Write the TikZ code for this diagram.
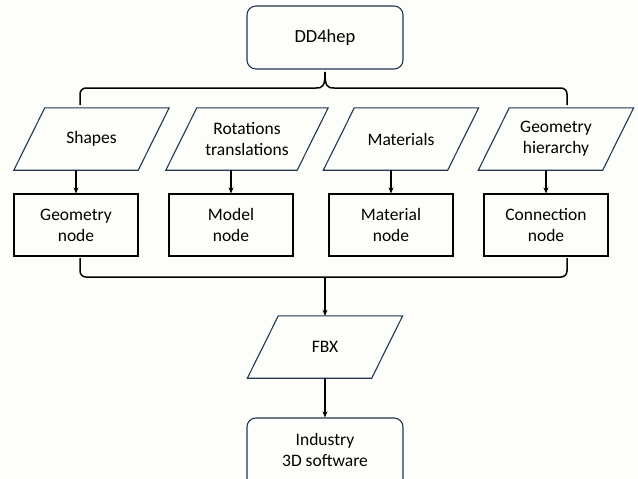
\documentclass[tikz,border=0pt]{standalone}
\usepackage{fontspec}
\setmainfont{Carlito}
\usetikzlibrary{shapes.geometric,arrows.meta}
\definecolor{bg}{RGB}{253,253,250}
\definecolor{frame}{RGB}{31,56,80}
\tikzset{
  txt/.style={font=\fontsize{17.5}{21}\selectfont, align=center, text=black},
  para/.style={txt, rectangle, minimum width=124pt, minimum height=62pt, inner sep=0pt},
  paraline/.style={draw=frame, line width=1.1pt, line join=miter},
  box/.style={txt, rectangle, draw=black, line width=1.1pt, minimum width=124pt, minimum height=62pt, inner sep=0pt},
  rbox/.style={txt, rectangle, rounded corners=9pt, draw=frame, line width=1.1pt, minimum width=156pt, minimum height=63pt, inner sep=0pt},
  conn/.style={line width=1.5pt, draw=black},
  arr/.style={conn, -{Stealth[length=6pt,width=5pt]}},
}
\begin{document}
\begin{tikzpicture}[x=1pt,y=-1pt]
\path[fill=bg] (0,0) rectangle (638,479);
\useasboundingbox (0,0) rectangle (638,479);

\node[rbox, font=\fontsize{18.5}{22}\selectfont] (dd) at (325,37.5) {DD4hep};

\node[para] (p1) at (91.5,139) {Shapes};
\node[para, minimum width=131pt] (p2) at (247,139) {Rotations\\translations};
\node[para] (p3) at (401,139) {Materials};
\node[para] (p4) at (556,139) {Geometry\\hierarchy};
\node[para] (fbx) at (325,347) {FBX};

\foreach \n in {p1,p2,p3,p4,fbx}
  \draw[paraline] ([xshift=-15.5pt]\n.south west) -- ([xshift=-15.5pt]\n.south east)
     -- ([xshift=15.5pt]\n.north east) -- ([xshift=15.5pt]\n.north west) -- cycle;

\node[box] (b1) at (76,225) {Geometry\\node};
\node[box] (b2) at (231,225) {Model\\node};
\node[box] (b3) at (391,225) {Material\\node};
\node[box] (b4) at (546,225) {Connection\\node};

\node[rbox, minimum height=80pt] (ind) at (325,458) {};
\node[txt] (indt) at (325,450) {Industry\\3D software};

% top brace
\coordinate (tl) at (80,105);
\coordinate (tr) at (567,105);
\coordinate (tip) at (325,72);
\draw[conn, rounded corners=6pt] (tl) -- (80,88) -- (316,88);
\draw[conn] (316,88) .. controls (323,88) and (325,86) .. (tip) .. controls (325,86) and (327,88) .. (334,88);
\draw[conn, rounded corners=6pt] (334,88) -- (567,88) -- (tr);

% arrows to boxes
\draw[arr] (b1.north |- p1.south) -- (b1.north);
\draw[arr] (b2.north |- p2.south) -- (b2.north);
\draw[arr] (b3.north |- p3.south) -- (b3.north);
\draw[arr] (b4.north |- p4.south) -- (b4.north);

% bottom brace
\coordinate (bl) at (80,258);
\coordinate (br) at (567,258);
\coordinate (bm) at (325,277);
\draw[conn, rounded corners=6pt] (bl) -- (80,277) -- (567,277) -- (br);
\draw[arr] (bm) -- (bm |- fbx.north);
\draw[arr] (fbx.south -| ind.north) -- (ind.north);
\end{tikzpicture}
\end{document}
